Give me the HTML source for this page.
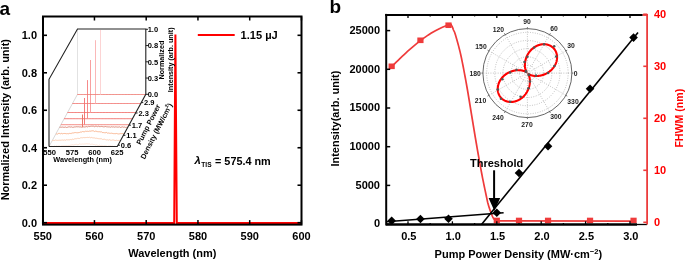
<!DOCTYPE html>
<html><head><meta charset="utf-8"><style>
html,body{margin:0;padding:0;background:#fff;width:685px;height:261px;overflow:hidden}
svg{display:block;will-change:transform}
text{font-family:"Liberation Sans",sans-serif}
</style></head><body>
<svg width="685" height="261" viewBox="0 0 685 261">
<text x="-0.50" y="15.20" font-size="19" font-weight="bold" text-anchor="start" fill="#000" >a</text>
<polyline points="43.00,222.90 174.20,222.90 175.40,34.50 176.80,222.90 301.50,222.90" stroke="#ff0000" stroke-width="2" fill="none" stroke-linejoin="miter"/>
<rect x="43.0" y="16.5" width="258.5" height="208.1" fill="none" stroke="#000" stroke-width="2"/>
<line x1="43.00" y1="222.70" x2="47.00" y2="222.70" stroke="#000" stroke-width="1.6" />
<line x1="297.50" y1="222.70" x2="301.50" y2="222.70" stroke="#000" stroke-width="1.6" />
<text x="37.00" y="226.60" font-size="11" font-weight="bold" text-anchor="end" fill="#000" >0.0</text>
<line x1="43.00" y1="185.22" x2="47.00" y2="185.22" stroke="#000" stroke-width="1.6" />
<line x1="297.50" y1="185.22" x2="301.50" y2="185.22" stroke="#000" stroke-width="1.6" />
<text x="37.00" y="189.12" font-size="11" font-weight="bold" text-anchor="end" fill="#000" >0.2</text>
<line x1="43.00" y1="147.74" x2="47.00" y2="147.74" stroke="#000" stroke-width="1.6" />
<line x1="297.50" y1="147.74" x2="301.50" y2="147.74" stroke="#000" stroke-width="1.6" />
<text x="37.00" y="151.64" font-size="11" font-weight="bold" text-anchor="end" fill="#000" >0.4</text>
<line x1="43.00" y1="110.26" x2="47.00" y2="110.26" stroke="#000" stroke-width="1.6" />
<line x1="297.50" y1="110.26" x2="301.50" y2="110.26" stroke="#000" stroke-width="1.6" />
<text x="37.00" y="114.16" font-size="11" font-weight="bold" text-anchor="end" fill="#000" >0.6</text>
<line x1="43.00" y1="72.78" x2="47.00" y2="72.78" stroke="#000" stroke-width="1.6" />
<line x1="297.50" y1="72.78" x2="301.50" y2="72.78" stroke="#000" stroke-width="1.6" />
<text x="37.00" y="76.68" font-size="11" font-weight="bold" text-anchor="end" fill="#000" >0.8</text>
<line x1="43.00" y1="35.30" x2="47.00" y2="35.30" stroke="#000" stroke-width="1.6" />
<line x1="297.50" y1="35.30" x2="301.50" y2="35.30" stroke="#000" stroke-width="1.6" />
<text x="37.00" y="39.20" font-size="11" font-weight="bold" text-anchor="end" fill="#000" >1.0</text>
<line x1="42.70" y1="224.60" x2="42.70" y2="220.10" stroke="#000" stroke-width="1.5" />
<line x1="42.70" y1="16.50" x2="42.70" y2="20.50" stroke="#000" stroke-width="1.5" />
<text x="42.70" y="239.60" font-size="11" font-weight="bold" text-anchor="middle" fill="#000" >550</text>
<line x1="94.45" y1="224.60" x2="94.45" y2="220.10" stroke="#000" stroke-width="1.5" />
<line x1="94.45" y1="16.50" x2="94.45" y2="20.50" stroke="#000" stroke-width="1.5" />
<text x="94.45" y="239.60" font-size="11" font-weight="bold" text-anchor="middle" fill="#000" >560</text>
<line x1="146.20" y1="224.60" x2="146.20" y2="220.10" stroke="#000" stroke-width="1.5" />
<line x1="146.20" y1="16.50" x2="146.20" y2="20.50" stroke="#000" stroke-width="1.5" />
<text x="146.20" y="239.60" font-size="11" font-weight="bold" text-anchor="middle" fill="#000" >570</text>
<line x1="197.95" y1="224.60" x2="197.95" y2="220.10" stroke="#000" stroke-width="1.5" />
<line x1="197.95" y1="16.50" x2="197.95" y2="20.50" stroke="#000" stroke-width="1.5" />
<text x="197.95" y="239.60" font-size="11" font-weight="bold" text-anchor="middle" fill="#000" >580</text>
<line x1="249.70" y1="224.60" x2="249.70" y2="220.10" stroke="#000" stroke-width="1.5" />
<line x1="249.70" y1="16.50" x2="249.70" y2="20.50" stroke="#000" stroke-width="1.5" />
<text x="249.70" y="239.60" font-size="11" font-weight="bold" text-anchor="middle" fill="#000" >590</text>
<line x1="301.45" y1="224.60" x2="301.45" y2="220.10" stroke="#000" stroke-width="1.5" />
<line x1="301.45" y1="16.50" x2="301.45" y2="20.50" stroke="#000" stroke-width="1.5" />
<text x="301.45" y="239.60" font-size="11" font-weight="bold" text-anchor="middle" fill="#000" >600</text>
<text x="172.30" y="256.70" font-size="11" font-weight="bold" text-anchor="middle" fill="#000" >Wavelength (nm)</text>
<text x="0.00" y="0.00" font-size="11" font-weight="bold" text-anchor="middle" fill="#000" transform="translate(9.3,119.7) rotate(-90)">Normalized Intensity (arb. unit)</text>
<line x1="197.80" y1="35.00" x2="234.70" y2="35.00" stroke="#ff0000" stroke-width="2" />
<text x="240.50" y="38.70" font-size="11.1" font-weight="bold" text-anchor="start" fill="#000" >1.15 µJ</text>
<text x="194.40" y="164.40" font-size="11.4" font-weight="bold" text-anchor="start" fill="#000" font-style="italic">λ</text>
<text x="201.30" y="167.40" font-size="7.6" font-weight="bold" text-anchor="start" fill="#000" textLength="10.3" lengthAdjust="spacingAndGlyphs">TIS</text>
<text x="215.00" y="164.50" font-size="10.85" font-weight="bold" text-anchor="start" fill="#000" >= 575.4 nm</text>
<line x1="77.50" y1="29.00" x2="77.50" y2="94.30" stroke="#e2e2e2" stroke-width="1" />
<line x1="49.00" y1="146.50" x2="77.50" y2="94.30" stroke="#d8d8d8" stroke-width="1" />
<polyline points="49.11,146.47 49.87,146.25 50.63,146.37 51.39,146.20 52.14,146.18 52.90,146.57 53.66,146.60 54.42,146.01 55.18,146.41 55.94,146.41 56.70,145.86 57.46,146.22 58.22,145.94 58.97,146.17 59.73,146.03 60.49,146.34 61.25,145.97 62.01,145.77 62.77,145.97 63.53,145.77 64.29,145.77 65.05,146.14 65.80,145.59 66.56,145.65 67.32,145.78 68.08,145.89 68.84,145.23 69.60,145.42 70.36,145.16 71.12,144.96 71.88,144.98 72.63,144.74 73.39,145.01 74.15,144.63 74.91,144.79 75.67,144.35 76.43,144.30 77.19,144.76 77.95,144.65 78.71,144.51 79.46,143.92 80.22,144.22 80.98,144.04 81.74,144.22 82.50,144.04 83.26,144.10 84.02,144.11 84.78,143.94 85.54,143.95 86.29,143.74 87.05,143.93 87.81,143.80 88.57,143.90 89.33,143.86 90.09,144.15 90.85,144.58 91.61,144.17 92.37,144.18 93.12,144.32 93.88,144.64 94.64,144.64 95.40,145.09 96.16,144.75 96.92,145.02 97.68,145.32 98.44,145.57 99.20,145.10 99.95,145.09 100.71,145.81 101.47,145.39 102.23,145.73 102.99,145.98 103.75,145.94 104.51,145.67 105.27,145.65 106.03,146.28 106.78,145.92 107.54,146.36 108.30,145.93 109.06,146.23 109.82,145.87 110.58,145.83 111.34,146.18 112.10,145.85 112.86,146.35 113.61,146.53 114.37,146.17 115.13,146.58 115.89,146.47 116.65,146.33 117.41,146.20" stroke="#fde2d4" stroke-width="1.0" fill="none" />
<polyline points="52.33,140.63 53.09,140.70 53.85,140.12 54.61,140.50 55.37,140.04 56.12,140.08 56.88,140.43 57.64,140.36 58.40,140.31 59.16,140.20 59.92,140.22 60.68,140.22 61.44,140.15 62.20,139.90 62.95,140.17 63.71,140.18 64.47,139.94 65.23,140.23 65.99,140.13 66.75,139.60 67.51,139.85 68.27,139.76 69.03,140.06 69.78,139.69 70.54,139.48 71.30,139.78 72.06,139.26 72.82,139.14 73.58,139.42 74.34,138.91 75.10,138.90 75.86,138.63 76.61,138.73 77.37,138.36 78.13,138.21 78.89,138.59 79.65,138.44 80.41,137.90 81.17,137.59 81.93,137.98 82.69,137.75 83.44,137.57 84.20,137.69 84.96,137.60 85.72,137.59 86.48,137.51 87.24,137.34 88.00,137.54 88.76,137.50 89.52,137.24 90.27,137.80 91.03,137.48 91.79,137.42 92.55,137.80 93.31,137.95 94.07,137.63 94.83,138.14 95.59,138.28 96.35,138.23 97.10,138.16 97.86,138.70 98.62,138.68 99.38,138.79 100.14,138.57 100.90,138.97 101.66,138.80 102.42,139.39 103.18,139.39 103.93,139.28 104.69,139.21 105.45,139.61 106.21,139.86 106.97,140.01 107.73,139.80 108.49,140.11 109.25,139.74 110.01,139.78 110.76,140.29 111.52,140.27 112.28,139.94 113.04,140.09 113.80,140.01 114.56,140.36 115.32,140.53 116.08,140.44 116.84,140.10 117.59,140.49 118.35,140.45 119.11,140.41 119.87,140.41 120.63,140.43" stroke="#fbcdb2" stroke-width="1.0" fill="none" />
<polyline points="55.93,133.49 56.69,134.02 57.45,134.13 58.21,133.46 58.97,133.50 59.73,133.42 60.49,133.80 61.25,133.42 62.01,133.43 62.76,133.91 63.52,133.52 64.28,133.44 65.04,133.54 65.80,133.61 66.56,133.74 67.32,133.67 68.08,133.71 68.84,133.78 69.59,133.37 70.35,133.53 71.11,133.10 71.87,133.57 72.63,132.90 73.39,132.97 74.15,132.73 74.91,132.66 75.67,132.57 76.42,132.69 77.18,132.99 77.94,132.37 78.70,132.66 79.46,132.46 80.22,132.09 80.98,132.07 81.74,132.04 82.50,131.56 83.25,131.68 84.01,131.77 84.77,131.73 85.53,131.21 86.29,131.40 87.05,131.11 87.81,131.35 88.57,131.40 89.33,131.13 90.08,130.90 90.84,131.33 91.60,130.90 92.36,130.81 93.12,130.92 93.88,130.94 94.64,131.56 95.40,131.18 96.16,131.08 96.91,131.73 97.67,131.66 98.43,131.76 99.19,131.68 99.95,131.86 100.71,131.93 101.47,131.83 102.23,132.49 102.99,132.56 103.74,132.62 104.50,132.74 105.26,132.88 106.02,132.35 106.78,132.54 107.54,133.17 108.30,132.97 109.06,133.19 109.82,133.27 110.57,133.32 111.33,133.18 112.09,133.28 112.85,133.50 113.61,133.67 114.37,133.62 115.13,133.80 115.89,133.54 116.65,133.46 117.40,133.72 118.16,133.96 118.92,133.91 119.68,133.79 120.44,133.65 121.20,133.53 121.96,133.83 122.72,133.54 123.48,133.68 124.23,133.82" stroke="#f8b590" stroke-width="1.0" fill="none" />
<polyline points="59.54,127.29 60.30,127.20 61.06,127.05 61.81,127.25 62.57,127.05 63.33,127.22 64.09,127.36 64.85,127.16 65.61,127.04 66.37,127.47 67.13,127.22 67.89,127.22 68.64,126.89 69.40,126.84 70.16,127.23 70.92,126.85 71.68,126.91 72.44,127.27 73.20,127.12 73.96,127.34 74.72,126.84 75.47,126.92 76.23,126.75 76.99,126.79 77.75,126.85 78.51,126.78 79.27,126.87 80.03,127.17 80.79,126.80 81.55,127.17 82.30,127.04 83.06,126.57 83.82,127.05 84.58,126.98 85.34,126.94 86.10,126.36 86.86,126.82 87.62,126.90 88.38,126.30 89.13,126.77 89.89,126.24 90.65,126.34 91.41,126.21 92.17,126.11 92.93,126.36 93.69,126.20 94.45,126.73 95.21,126.21 95.96,126.39 96.72,126.26 97.48,126.69 98.24,126.26 99.00,126.15 99.76,126.78 100.52,126.62 101.28,126.47 102.04,126.32 102.79,126.76 103.55,126.83 104.31,126.82 105.07,126.59 105.83,126.53 106.59,126.82 107.35,126.87 108.11,126.88 108.87,126.94 109.62,126.93 110.38,127.19 111.14,126.93 111.90,126.62 112.66,127.04 113.42,126.83 114.18,127.26 114.94,126.91 115.70,126.89 116.45,126.96 117.21,127.08 117.97,127.12 118.73,127.02 119.49,126.86 120.25,127.39 121.01,127.43 121.77,126.99 122.53,126.87 123.28,127.16 124.04,127.22 124.80,127.03 125.56,127.40 126.32,127.35 127.08,127.40 127.84,127.13" stroke="#d88878" stroke-width="1.0" fill="none" />
<line x1="82.50" y1="127.20" x2="82.50" y2="114.50" stroke="#e87868" stroke-width="1.0" />
<polyline points="60.90,124.70 61.66,124.70 62.42,124.70 63.18,124.70 63.94,124.70 64.70,124.70 65.46,124.70 66.21,124.70 66.97,124.70 67.73,124.70 68.49,124.70 69.25,124.70 70.01,124.70 70.77,124.70 71.53,124.70 72.29,124.70 73.04,124.70 73.80,124.70 74.56,124.70 75.32,124.70 76.08,124.70 76.84,124.70 77.60,124.70 78.36,124.70 79.12,124.70 79.87,124.70 80.63,124.70 81.39,124.70 82.15,124.70 82.91,124.70 83.67,124.70 84.43,124.70 85.19,124.70 85.95,124.70 86.70,124.70 87.46,124.70 88.22,124.70 88.98,124.70 89.74,124.70 90.50,124.70 91.26,124.70 92.02,124.70 92.78,124.70 93.53,124.70 94.29,124.70 95.05,124.70 95.81,124.70 96.57,124.70 97.33,124.70 98.09,124.70 98.85,124.70 99.61,124.70 100.36,124.70 101.12,124.70 101.88,124.70 102.64,124.70 103.40,124.70 104.16,124.70 104.92,124.70 105.68,124.70 106.44,124.70 107.19,124.70 107.95,124.70 108.71,124.70 109.47,124.70 110.23,124.70 110.99,124.70 111.75,124.70 112.51,124.70 113.27,124.70 114.02,124.70 114.78,124.70 115.54,124.70 116.30,124.70 117.06,124.70 117.82,124.70 118.58,124.70 119.34,124.70 120.10,124.70 120.85,124.70 121.61,124.70 122.37,124.70 123.13,124.70 123.89,124.70 124.65,124.70 125.41,124.70 126.17,124.70 126.93,124.70 127.68,124.70 128.44,124.70 129.20,124.70" stroke="#f27a72" stroke-width="1.0" fill="none" />
<line x1="84.50" y1="124.70" x2="84.50" y2="98.00" stroke="#f47c7c" stroke-width="1.0" />
<polyline points="64.18,118.70 64.94,118.70 65.70,118.70 66.45,118.70 67.21,118.70 67.97,118.70 68.73,118.70 69.49,118.70 70.25,118.70 71.01,118.70 71.77,118.70 72.53,118.70 73.28,118.70 74.04,118.70 74.80,118.70 75.56,118.70 76.32,118.70 77.08,118.70 77.84,118.70 78.60,118.70 79.36,118.70 80.11,118.70 80.87,118.70 81.63,118.70 82.39,118.70 83.15,118.70 83.91,118.70 84.67,118.70 85.43,118.70 86.19,118.70 86.94,118.70 87.70,118.70 88.46,118.70 89.22,118.70 89.98,118.70 90.74,118.70 91.50,118.70 92.26,118.70 93.02,118.70 93.77,118.70 94.53,118.70 95.29,118.70 96.05,118.70 96.81,118.70 97.57,118.70 98.33,118.70 99.09,118.70 99.85,118.70 100.60,118.70 101.36,118.70 102.12,118.70 102.88,118.70 103.64,118.70 104.40,118.70 105.16,118.70 105.92,118.70 106.68,118.70 107.43,118.70 108.19,118.70 108.95,118.70 109.71,118.70 110.47,118.70 111.23,118.70 111.99,118.70 112.75,118.70 113.51,118.70 114.26,118.70 115.02,118.70 115.78,118.70 116.54,118.70 117.30,118.70 118.06,118.70 118.82,118.70 119.58,118.70 120.34,118.70 121.09,118.70 121.85,118.70 122.61,118.70 123.37,118.70 124.13,118.70 124.89,118.70 125.65,118.70 126.41,118.70 127.17,118.70 127.92,118.70 128.68,118.70 129.44,118.70 130.20,118.70 130.96,118.70 131.72,118.70 132.48,118.70" stroke="#f06a66" stroke-width="1.0" fill="none" />
<line x1="87.50" y1="118.70" x2="87.50" y2="80.10" stroke="#f68a8a" stroke-width="1.0" />
<polyline points="67.56,112.50 68.32,112.50 69.08,112.50 69.84,112.50 70.60,112.50 71.36,112.50 72.12,112.50 72.88,112.50 73.63,112.50 74.39,112.50 75.15,112.50 75.91,112.50 76.67,112.50 77.43,112.50 78.19,112.50 78.95,112.50 79.71,112.50 80.46,112.50 81.22,112.50 81.98,112.50 82.74,112.50 83.50,112.50 84.26,112.50 85.02,112.50 85.78,112.50 86.54,112.50 87.29,112.50 88.05,112.50 88.81,112.50 89.57,112.50 90.33,112.50 91.09,112.50 91.85,112.50 92.61,112.50 93.37,112.50 94.12,112.50 94.88,112.50 95.64,112.50 96.40,112.50 97.16,112.50 97.92,112.50 98.68,112.50 99.44,112.50 100.20,112.50 100.95,112.50 101.71,112.50 102.47,112.50 103.23,112.50 103.99,112.50 104.75,112.50 105.51,112.50 106.27,112.50 107.03,112.50 107.78,112.50 108.54,112.50 109.30,112.50 110.06,112.50 110.82,112.50 111.58,112.50 112.34,112.50 113.10,112.50 113.86,112.50 114.61,112.50 115.37,112.50 116.13,112.50 116.89,112.50 117.65,112.50 118.41,112.50 119.17,112.50 119.93,112.50 120.69,112.50 121.44,112.50 122.20,112.50 122.96,112.50 123.72,112.50 124.48,112.50 125.24,112.50 126.00,112.50 126.76,112.50 127.52,112.50 128.27,112.50 129.03,112.50 129.79,112.50 130.55,112.50 131.31,112.50 132.07,112.50 132.83,112.50 133.59,112.50 134.35,112.50 135.10,112.50 135.86,112.50" stroke="#f06a66" stroke-width="1.0" fill="none" />
<line x1="90.50" y1="112.50" x2="90.50" y2="60.00" stroke="#f8a0a0" stroke-width="1.0" />
<polyline points="72.48,103.50 73.24,103.50 73.99,103.50 74.75,103.50 75.51,103.50 76.27,103.50 77.03,103.50 77.79,103.50 78.55,103.50 79.31,103.50 80.07,103.50 80.82,103.50 81.58,103.50 82.34,103.50 83.10,103.50 83.86,103.50 84.62,103.50 85.38,103.50 86.14,103.50 86.90,103.50 87.65,103.50 88.41,103.50 89.17,103.50 89.93,103.50 90.69,103.50 91.45,103.50 92.21,103.50 92.97,103.50 93.73,103.50 94.48,103.50 95.24,103.50 96.00,103.50 96.76,103.50 97.52,103.50 98.28,103.50 99.04,103.50 99.80,103.50 100.56,103.50 101.31,103.50 102.07,103.50 102.83,103.50 103.59,103.50 104.35,103.50 105.11,103.50 105.87,103.50 106.63,103.50 107.39,103.50 108.14,103.50 108.90,103.50 109.66,103.50 110.42,103.50 111.18,103.50 111.94,103.50 112.70,103.50 113.46,103.50 114.22,103.50 114.97,103.50 115.73,103.50 116.49,103.50 117.25,103.50 118.01,103.50 118.77,103.50 119.53,103.50 120.29,103.50 121.05,103.50 121.80,103.50 122.56,103.50 123.32,103.50 124.08,103.50 124.84,103.50 125.60,103.50 126.36,103.50 127.12,103.50 127.88,103.50 128.63,103.50 129.39,103.50 130.15,103.50 130.91,103.50 131.67,103.50 132.43,103.50 133.19,103.50 133.95,103.50 134.71,103.50 135.46,103.50 136.22,103.50 136.98,103.50 137.74,103.50 138.50,103.50 139.26,103.50 140.02,103.50 140.78,103.50" stroke="#f07470" stroke-width="1.0" fill="none" />
<line x1="95.50" y1="103.50" x2="95.50" y2="40.20" stroke="#fab8b8" stroke-width="1.0" />
<polyline points="77.39,94.50 78.15,94.50 78.91,94.50 79.67,94.50 80.43,94.50 81.19,94.50 81.94,94.50 82.70,94.50 83.46,94.50 84.22,94.50 84.98,94.50 85.74,94.50 86.50,94.50 87.26,94.50 88.02,94.50 88.77,94.50 89.53,94.50 90.29,94.50 91.05,94.50 91.81,94.50 92.57,94.50 93.33,94.50 94.09,94.50 94.85,94.50 95.60,94.50 96.36,94.50 97.12,94.50 97.88,94.50 98.64,94.50 99.40,94.50 100.16,94.50 100.92,94.50 101.68,94.50 102.43,94.50 103.19,94.50 103.95,94.50 104.71,94.50 105.47,94.50 106.23,94.50 106.99,94.50 107.75,94.50 108.51,94.50 109.26,94.50 110.02,94.50 110.78,94.50 111.54,94.50 112.30,94.50 113.06,94.50 113.82,94.50 114.58,94.50 115.34,94.50 116.09,94.50 116.85,94.50 117.61,94.50 118.37,94.50 119.13,94.50 119.89,94.50 120.65,94.50 121.41,94.50 122.17,94.50 122.92,94.50 123.68,94.50 124.44,94.50 125.20,94.50 125.96,94.50 126.72,94.50 127.48,94.50 128.24,94.50 129.00,94.50 129.75,94.50 130.51,94.50 131.27,94.50 132.03,94.50 132.79,94.50 133.55,94.50 134.31,94.50 135.07,94.50 135.83,94.50 136.58,94.50 137.34,94.50 138.10,94.50 138.86,94.50 139.62,94.50 140.38,94.50 141.14,94.50 141.90,94.50 142.66,94.50 143.41,94.50 144.17,94.50 144.93,94.50 145.69,94.50" stroke="#ee7a72" stroke-width="1.0" fill="none" />
<line x1="100.50" y1="94.50" x2="100.50" y2="30.00" stroke="#fcd4d4" stroke-width="1.0" />
<polyline points="49.00,146.50 49.00,79.30 77.50,29.00 145.80,29.00 145.80,94.30 117.30,146.50 49.00,146.50" stroke="#222" stroke-width="1.1" fill="none" />
<line x1="145.80" y1="94.30" x2="148.00" y2="94.30" stroke="#222" stroke-width="1" />
<text x="147.70" y="97.00" font-size="7.5" font-weight="bold" text-anchor="start" fill="#000" >0.0</text>
<line x1="145.80" y1="78.05" x2="148.00" y2="78.05" stroke="#222" stroke-width="1" />
<text x="147.70" y="80.75" font-size="7.5" font-weight="bold" text-anchor="start" fill="#000" >0.3</text>
<line x1="145.80" y1="61.80" x2="148.00" y2="61.80" stroke="#222" stroke-width="1" />
<text x="147.70" y="64.50" font-size="7.5" font-weight="bold" text-anchor="start" fill="#000" >0.5</text>
<line x1="145.80" y1="45.55" x2="148.00" y2="45.55" stroke="#222" stroke-width="1" />
<text x="147.70" y="48.25" font-size="7.5" font-weight="bold" text-anchor="start" fill="#000" >0.8</text>
<line x1="145.80" y1="29.30" x2="148.00" y2="29.30" stroke="#222" stroke-width="1" />
<text x="147.70" y="32.00" font-size="7.5" font-weight="bold" text-anchor="start" fill="#000" >1.0</text>
<line x1="141.27" y1="102.60" x2="143.27" y2="102.60" stroke="#222" stroke-width="1" />
<text x="144.07" y="105.30" font-size="7.5" font-weight="bold" text-anchor="start" fill="#000" >2.9</text>
<line x1="135.59" y1="113.00" x2="137.59" y2="113.00" stroke="#222" stroke-width="1" />
<text x="138.39" y="115.70" font-size="7.5" font-weight="bold" text-anchor="start" fill="#000" >2.3</text>
<line x1="128.93" y1="125.20" x2="130.93" y2="125.20" stroke="#222" stroke-width="1" />
<text x="131.73" y="127.90" font-size="7.5" font-weight="bold" text-anchor="start" fill="#000" >1.7</text>
<line x1="123.41" y1="135.30" x2="125.41" y2="135.30" stroke="#222" stroke-width="1" />
<text x="126.21" y="138.00" font-size="7.5" font-weight="bold" text-anchor="start" fill="#000" >1.1</text>
<line x1="118.01" y1="145.20" x2="120.01" y2="145.20" stroke="#222" stroke-width="1" />
<text x="120.81" y="147.90" font-size="7.5" font-weight="bold" text-anchor="start" fill="#000" >0.6</text>
<text x="49.60" y="154.90" font-size="7.6" font-weight="bold" text-anchor="middle" fill="#000" >550</text>
<text x="72.13" y="154.90" font-size="7.6" font-weight="bold" text-anchor="middle" fill="#000" >575</text>
<text x="94.66" y="154.90" font-size="7.6" font-weight="bold" text-anchor="middle" fill="#000" >600</text>
<text x="117.19" y="154.90" font-size="7.6" font-weight="bold" text-anchor="middle" fill="#000" >625</text>
<text x="82.60" y="162.10" font-size="7.3" font-weight="bold" text-anchor="middle" fill="#000" >Wavelength (nm)</text>
<text x="0.00" y="0.00" font-size="7.2" font-weight="bold" text-anchor="middle" fill="#000" transform="translate(164.4,60.1) rotate(-90)">Normalized</text>
<text x="0.00" y="0.00" font-size="7.2" font-weight="bold" text-anchor="middle" fill="#000" transform="translate(173.2,59.8) rotate(-90)">Intensity (arb. unit)</text>
<text x="0.00" y="0.00" font-size="7.3" font-weight="bold" text-anchor="middle" fill="#000" transform="translate(150.6,125.6) rotate(-63)">Pump Power</text>
<text x="0.00" y="0.00" font-size="7.3" font-weight="bold" text-anchor="middle" fill="#000" transform="translate(158.6,132.2) rotate(-63)">Density (MW/cm<tspan font-size="5" dy="-3">2</tspan><tspan dy="3">)</tspan></text>
<text x="329.50" y="13.20" font-size="19" font-weight="bold" text-anchor="start" fill="#000" >b</text>
<circle cx="527.4" cy="73.1" r="8.15" fill="none" stroke="#a0a0a0" stroke-width="0.7" stroke-dasharray="0.9 1.5"/>
<circle cx="527.4" cy="73.1" r="16.30" fill="none" stroke="#a0a0a0" stroke-width="0.7" stroke-dasharray="0.9 1.5"/>
<circle cx="527.4" cy="73.1" r="24.45" fill="none" stroke="#a0a0a0" stroke-width="0.7" stroke-dasharray="0.9 1.5"/>
<circle cx="527.4" cy="73.1" r="32.60" fill="none" stroke="#a0a0a0" stroke-width="0.7" stroke-dasharray="0.9 1.5"/>
<circle cx="527.4" cy="73.1" r="40.75" fill="none" stroke="#a0a0a0" stroke-width="0.7" stroke-dasharray="0.9 1.5"/>
<line x1="527.40" y1="73.10" x2="571.90" y2="73.10" stroke="#a0a0a0" stroke-width="0.7" stroke-dasharray="0.9 1.5"/>
<line x1="527.40" y1="73.10" x2="565.94" y2="50.85" stroke="#a0a0a0" stroke-width="0.7" stroke-dasharray="0.9 1.5"/>
<line x1="527.40" y1="73.10" x2="549.65" y2="34.56" stroke="#a0a0a0" stroke-width="0.7" stroke-dasharray="0.9 1.5"/>
<line x1="527.40" y1="73.10" x2="527.40" y2="28.60" stroke="#a0a0a0" stroke-width="0.7" stroke-dasharray="0.9 1.5"/>
<line x1="527.40" y1="73.10" x2="505.15" y2="34.56" stroke="#a0a0a0" stroke-width="0.7" stroke-dasharray="0.9 1.5"/>
<line x1="527.40" y1="73.10" x2="488.86" y2="50.85" stroke="#a0a0a0" stroke-width="0.7" stroke-dasharray="0.9 1.5"/>
<line x1="527.40" y1="73.10" x2="482.90" y2="73.10" stroke="#a0a0a0" stroke-width="0.7" stroke-dasharray="0.9 1.5"/>
<line x1="527.40" y1="73.10" x2="488.86" y2="95.35" stroke="#a0a0a0" stroke-width="0.7" stroke-dasharray="0.9 1.5"/>
<line x1="527.40" y1="73.10" x2="505.15" y2="111.64" stroke="#a0a0a0" stroke-width="0.7" stroke-dasharray="0.9 1.5"/>
<line x1="527.40" y1="73.10" x2="527.40" y2="117.60" stroke="#a0a0a0" stroke-width="0.7" stroke-dasharray="0.9 1.5"/>
<line x1="527.40" y1="73.10" x2="549.65" y2="111.64" stroke="#a0a0a0" stroke-width="0.7" stroke-dasharray="0.9 1.5"/>
<line x1="527.40" y1="73.10" x2="565.94" y2="95.35" stroke="#a0a0a0" stroke-width="0.7" stroke-dasharray="0.9 1.5"/>
<circle cx="527.4" cy="73.1" r="44.5" fill="none" stroke="#555" stroke-width="0.9"/>
<line x1="571.90" y1="73.10" x2="573.40" y2="73.10" stroke="#555" stroke-width="0.8" />
<line x1="565.94" y1="50.85" x2="567.24" y2="50.10" stroke="#555" stroke-width="0.8" />
<line x1="549.65" y1="34.56" x2="550.40" y2="33.26" stroke="#555" stroke-width="0.8" />
<line x1="527.40" y1="28.60" x2="527.40" y2="27.10" stroke="#555" stroke-width="0.8" />
<line x1="505.15" y1="34.56" x2="504.40" y2="33.26" stroke="#555" stroke-width="0.8" />
<line x1="488.86" y1="50.85" x2="487.56" y2="50.10" stroke="#555" stroke-width="0.8" />
<line x1="482.90" y1="73.10" x2="481.40" y2="73.10" stroke="#555" stroke-width="0.8" />
<line x1="488.86" y1="95.35" x2="487.56" y2="96.10" stroke="#555" stroke-width="0.8" />
<line x1="505.15" y1="111.64" x2="504.40" y2="112.94" stroke="#555" stroke-width="0.8" />
<line x1="527.40" y1="117.60" x2="527.40" y2="119.10" stroke="#555" stroke-width="0.8" />
<line x1="549.65" y1="111.64" x2="550.40" y2="112.94" stroke="#555" stroke-width="0.8" />
<line x1="565.94" y1="95.35" x2="567.24" y2="96.10" stroke="#555" stroke-width="0.8" />
<text x="575.70" y="75.50" font-size="6.8" font-weight="bold" text-anchor="middle" fill="#222" >0</text>
<text x="571.00" y="48.10" font-size="6.8" font-weight="bold" text-anchor="middle" fill="#222" >30</text>
<text x="554.00" y="31.10" font-size="6.8" font-weight="bold" text-anchor="middle" fill="#222" >60</text>
<text x="527.00" y="24.40" font-size="6.8" font-weight="bold" text-anchor="middle" fill="#222" >90</text>
<text x="498.30" y="31.50" font-size="6.8" font-weight="bold" text-anchor="middle" fill="#222" >120</text>
<text x="481.00" y="48.50" font-size="6.8" font-weight="bold" text-anchor="middle" fill="#222" >150</text>
<text x="475.10" y="75.50" font-size="6.8" font-weight="bold" text-anchor="middle" fill="#222" >180</text>
<text x="480.50" y="103.20" font-size="6.8" font-weight="bold" text-anchor="middle" fill="#222" >210</text>
<text x="498.00" y="119.80" font-size="6.8" font-weight="bold" text-anchor="middle" fill="#222" >240</text>
<text x="527.00" y="126.80" font-size="6.8" font-weight="bold" text-anchor="middle" fill="#222" >270</text>
<text x="555.80" y="119.40" font-size="6.8" font-weight="bold" text-anchor="middle" fill="#222" >300</text>
<text x="573.00" y="103.50" font-size="6.8" font-weight="bold" text-anchor="middle" fill="#222" >330</text>
<polygon points="547.09,73.10 547.39,72.93 547.69,72.75 547.99,72.56 548.28,72.37 548.57,72.18 548.86,71.98 549.15,71.77 549.43,71.56 549.71,71.34 549.99,71.12 550.26,70.90 550.53,70.67 550.80,70.43 551.06,70.20 551.32,69.95 551.57,69.70 551.82,69.45 552.07,69.19 552.31,68.93 552.55,68.67 552.78,68.40 553.01,68.12 553.23,67.85 553.45,67.56 553.66,67.28 553.86,66.99 554.07,66.70 554.26,66.40 554.45,66.10 554.63,65.80 554.81,65.50 554.98,65.19 555.15,64.88 555.31,64.57 555.46,64.25 555.61,63.93 555.75,63.62 555.88,63.29 556.01,62.97 556.13,62.64 556.24,62.32 556.35,61.99 556.44,61.66 556.54,61.33 556.62,61.00 556.70,60.66 556.77,60.33 556.83,60.00 556.89,59.66 556.94,59.33 556.98,58.99 557.01,58.66 557.04,58.32 557.06,57.99 557.07,57.66 557.07,57.32 557.07,56.99 557.06,56.66 557.04,56.33 557.01,56.00 556.98,55.68 556.94,55.35 556.89,55.03 556.83,54.71 556.77,54.39 556.70,54.07 556.62,53.76 556.53,53.45 556.44,53.14 556.34,52.84 556.23,52.53 556.12,52.24 556.00,51.94 555.87,51.65 555.73,51.36 555.59,51.08 555.44,50.80 555.28,50.52 555.12,50.25 554.95,49.98 554.77,49.72 554.59,49.46 554.40,49.21 554.21,48.96 554.01,48.72 553.80,48.48 553.59,48.25 553.37,48.02 553.14,47.80 552.91,47.59 552.68,47.38 552.44,47.18 552.19,46.98 551.94,46.79 551.68,46.60 551.42,46.42 551.15,46.25 550.88,46.09 550.61,45.93 550.33,45.77 550.05,45.63 549.76,45.49 549.47,45.36 549.17,45.23 548.87,45.12 548.57,45.00 548.27,44.90 547.96,44.80 547.65,44.71 547.33,44.63 547.02,44.56 546.70,44.49 546.38,44.43 546.05,44.38 545.73,44.33 545.40,44.29 545.07,44.26 544.74,44.24 544.41,44.23 544.07,44.22 543.74,44.22 543.41,44.22 543.07,44.24 542.73,44.26 542.40,44.29 542.06,44.33 541.72,44.37 541.39,44.42 541.05,44.48 540.72,44.55 540.38,44.62 540.05,44.70 539.71,44.78 539.38,44.88 539.05,44.98 538.72,45.09 538.39,45.20 538.06,45.32 537.74,45.45 537.41,45.59 537.09,45.73 536.77,45.88 536.46,46.03 536.14,46.19 535.83,46.36 535.52,46.53 535.22,46.71 534.92,46.89 534.62,47.08 534.32,47.28 534.03,47.48 533.74,47.68 533.45,47.90 533.17,48.11 532.89,48.33 532.62,48.56 532.35,48.79 532.08,49.03 531.82,49.27 531.56,49.51 531.31,49.76 531.06,50.01 530.81,50.27 530.57,50.53 530.34,50.80 530.11,51.06 529.88,51.34 529.66,51.61 529.44,51.89 529.23,52.17 529.03,52.45 528.82,52.74 528.63,53.02 528.44,53.31 528.25,53.61 528.07,53.90 527.90,54.20 527.72,54.49 527.56,54.79 527.40,55.09 527.25,55.39 527.10,55.70 526.95,56.00 526.81,56.30 526.68,56.61 526.55,56.91 526.43,57.22 526.31,57.52 526.20,57.82 526.09,58.13 525.99,58.43 525.89,58.74 525.80,59.04 525.71,59.34 525.63,59.64 525.55,59.94 525.48,60.24 525.41,60.53 525.35,60.83 525.29,61.12 525.23,61.41 525.18,61.70 525.14,61.99 525.10,62.27 525.06,62.55 525.03,62.83 525.00,63.11 524.98,63.38 524.96,63.65 524.94,63.92 524.93,64.18 524.92,64.44 524.91,64.70 524.91,64.96 524.91,65.21 524.92,65.45 524.92,65.70 524.93,65.93 524.95,66.17 524.96,66.40 524.98,66.63 525.00,66.85 525.02,67.07 525.05,67.28 525.08,67.49 525.11,67.70 525.14,67.90 525.17,68.09 525.20,68.28 525.24,68.47 525.28,68.65 525.32,68.83 525.36,69.00 525.40,69.17 525.44,69.33 525.48,69.48 525.52,69.64 525.56,69.78 525.60,69.93 525.65,70.06 525.69,70.19 525.73,70.32 525.77,70.44 525.81,70.56 525.85,70.67 525.89,70.78 525.93,70.88 525.97,70.98 526.00,71.07 526.04,71.16 526.07,71.24 526.10,71.32 526.13,71.39 526.16,71.46 526.19,71.52 526.21,71.58 526.23,71.63 526.25,71.68 526.27,71.73 526.28,71.77 526.30,71.81 526.30,71.84 526.31,71.87 526.31,71.89 526.31,71.91 526.31,71.93 526.30,71.94 526.29,71.95 526.27,71.95 526.25,71.95 526.23,71.95 526.21,71.95 526.18,71.94 526.14,71.93 526.10,71.91 526.06,71.89 526.01,71.87 525.96,71.85 525.91,71.82 525.85,71.80 525.78,71.77 525.71,71.73 525.64,71.70 525.56,71.66 525.48,71.62 525.39,71.58 525.29,71.54 525.20,71.50 525.09,71.45 524.99,71.41 524.87,71.36 524.75,71.32 524.63,71.27 524.50,71.22 524.37,71.17 524.23,71.12 524.09,71.07 523.94,71.02 523.79,70.97 523.63,70.92 523.47,70.88 523.30,70.83 523.13,70.78 522.95,70.74 522.77,70.69 522.58,70.65 522.39,70.60 522.19,70.56 521.99,70.52 521.79,70.48 521.58,70.45 521.36,70.41 521.14,70.38 520.92,70.35 520.69,70.32 520.46,70.30 520.22,70.27 519.98,70.25 519.74,70.23 519.49,70.22 519.23,70.21 518.98,70.20 518.72,70.20 518.46,70.19 518.19,70.20 517.92,70.20 517.65,70.21 517.37,70.22 517.09,70.24 516.81,70.26 516.52,70.29 516.24,70.32 515.95,70.35 515.65,70.39 515.36,70.43 515.06,70.48 514.77,70.53 514.47,70.59 514.16,70.65 513.86,70.71 513.56,70.78 513.25,70.86 512.94,70.94 512.63,71.02 512.33,71.12 512.02,71.21 511.71,71.31 511.40,71.42 511.09,71.53 510.78,71.65 510.47,71.77 510.16,71.89 509.85,72.03 509.54,72.16 509.23,72.31 508.92,72.45 508.62,72.61 508.31,72.77 508.01,72.93 507.71,73.10 507.41,73.27 507.11,73.45 506.81,73.64 506.52,73.83 506.23,74.02 505.94,74.22 505.65,74.43 505.37,74.64 505.09,74.86 504.81,75.08 504.54,75.30 504.27,75.53 504.00,75.77 503.74,76.00 503.48,76.25 503.23,76.50 502.98,76.75 502.73,77.01 502.49,77.27 502.25,77.53 502.02,77.80 501.79,78.08 501.57,78.35 501.35,78.64 501.14,78.92 500.94,79.21 500.73,79.50 500.54,79.80 500.35,80.10 500.17,80.40 499.99,80.70 499.82,81.01 499.65,81.32 499.49,81.63 499.34,81.95 499.19,82.27 499.05,82.58 498.92,82.91 498.79,83.23 498.67,83.56 498.56,83.88 498.45,84.21 498.36,84.54 498.26,84.87 498.18,85.20 498.10,85.54 498.03,85.87 497.97,86.20 497.91,86.54 497.86,86.87 497.82,87.21 497.79,87.54 497.76,87.88 497.74,88.21 497.73,88.54 497.73,88.88 497.73,89.21 497.74,89.54 497.76,89.87 497.79,90.20 497.82,90.52 497.86,90.85 497.91,91.17 497.97,91.49 498.03,91.81 498.10,92.13 498.18,92.44 498.27,92.75 498.36,93.06 498.46,93.36 498.57,93.67 498.68,93.96 498.80,94.26 498.93,94.55 499.07,94.84 499.21,95.12 499.36,95.40 499.52,95.68 499.68,95.95 499.85,96.22 500.03,96.48 500.21,96.74 500.40,96.99 500.59,97.24 500.79,97.48 501.00,97.72 501.21,97.95 501.43,98.18 501.66,98.40 501.89,98.61 502.12,98.82 502.36,99.02 502.61,99.22 502.86,99.41 503.12,99.60 503.38,99.78 503.65,99.95 503.92,100.11 504.19,100.27 504.47,100.43 504.75,100.57 505.04,100.71 505.33,100.84 505.63,100.97 505.93,101.08 506.23,101.20 506.53,101.30 506.84,101.40 507.15,101.49 507.47,101.57 507.78,101.64 508.10,101.71 508.42,101.77 508.75,101.82 509.07,101.87 509.40,101.91 509.73,101.94 510.06,101.96 510.39,101.97 510.73,101.98 511.06,101.98 511.39,101.98 511.73,101.96 512.07,101.94 512.40,101.91 512.74,101.87 513.08,101.83 513.41,101.78 513.75,101.72 514.08,101.65 514.42,101.58 514.75,101.50 515.09,101.42 515.42,101.32 515.75,101.22 516.08,101.11 516.41,101.00 516.74,100.88 517.06,100.75 517.39,100.61 517.71,100.47 518.03,100.32 518.34,100.17 518.66,100.01 518.97,99.84 519.28,99.67 519.58,99.49 519.88,99.31 520.18,99.12 520.48,98.92 520.77,98.72 521.06,98.52 521.35,98.30 521.63,98.09 521.91,97.87 522.18,97.64 522.45,97.41 522.72,97.17 522.98,96.93 523.24,96.69 523.49,96.44 523.74,96.19 523.99,95.93 524.23,95.67 524.46,95.40 524.69,95.14 524.92,94.86 525.14,94.59 525.36,94.31 525.57,94.03 525.77,93.75 525.98,93.46 526.17,93.18 526.36,92.89 526.55,92.59 526.73,92.30 526.90,92.00 527.08,91.71 527.24,91.41 527.40,91.11 527.55,90.81 527.70,90.50 527.85,90.20 527.99,89.90 528.12,89.59 528.25,89.29 528.37,88.98 528.49,88.68 528.60,88.38 528.71,88.07 528.81,87.77 528.91,87.46 529.00,87.16 529.09,86.86 529.17,86.56 529.25,86.26 529.32,85.96 529.39,85.67 529.45,85.37 529.51,85.08 529.57,84.79 529.62,84.50 529.66,84.21 529.70,83.93 529.74,83.65 529.77,83.37 529.80,83.09 529.82,82.82 529.84,82.55 529.86,82.28 529.87,82.02 529.88,81.76 529.89,81.50 529.89,81.24 529.89,80.99 529.88,80.75 529.88,80.50 529.87,80.27 529.85,80.03 529.84,79.80 529.82,79.57 529.80,79.35 529.78,79.13 529.75,78.92 529.72,78.71 529.69,78.50 529.66,78.30 529.63,78.11 529.60,77.92 529.56,77.73 529.52,77.55 529.48,77.37 529.44,77.20 529.40,77.03 529.36,76.87 529.32,76.72 529.28,76.56 529.24,76.42 529.20,76.27 529.15,76.14 529.11,76.01 529.07,75.88 529.03,75.76 528.99,75.64 528.95,75.53 528.91,75.42 528.87,75.32 528.83,75.22 528.80,75.13 528.76,75.04 528.73,74.96 528.70,74.88 528.67,74.81 528.64,74.74 528.61,74.68 528.59,74.62 528.57,74.57 528.55,74.52 528.53,74.47 528.52,74.43 528.50,74.39 528.50,74.36 528.49,74.33 528.49,74.31 528.49,74.29 528.49,74.27 528.50,74.26 528.51,74.25 528.53,74.25 528.55,74.25 528.57,74.25 528.59,74.25 528.62,74.26 528.66,74.27 528.70,74.29 528.74,74.31 528.79,74.33 528.84,74.35 528.89,74.38 528.95,74.40 529.02,74.43 529.09,74.47 529.16,74.50 529.24,74.54 529.32,74.58 529.41,74.62 529.51,74.66 529.60,74.70 529.71,74.75 529.81,74.79 529.93,74.84 530.05,74.88 530.17,74.93 530.30,74.98 530.43,75.03 530.57,75.08 530.71,75.13 530.86,75.18 531.01,75.23 531.17,75.28 531.33,75.32 531.50,75.37 531.67,75.42 531.85,75.46 532.03,75.51 532.22,75.55 532.41,75.60 532.61,75.64 532.81,75.68 533.01,75.72 533.22,75.75 533.44,75.79 533.66,75.82 533.88,75.85 534.11,75.88 534.34,75.90 534.58,75.93 534.82,75.95 535.06,75.97 535.31,75.98 535.57,75.99 535.82,76.00 536.08,76.00 536.34,76.01 536.61,76.00 536.88,76.00 537.15,75.99 537.43,75.98 537.71,75.96 537.99,75.94 538.28,75.91 538.56,75.88 538.85,75.85 539.15,75.81 539.44,75.77 539.74,75.72 540.03,75.67 540.33,75.61 540.64,75.55 540.94,75.49 541.24,75.42 541.55,75.34 541.86,75.26 542.17,75.18 542.47,75.08 542.78,74.99 543.09,74.89 543.40,74.78 543.71,74.67 544.02,74.55 544.33,74.43 544.64,74.31 544.95,74.17 545.26,74.04 545.57,73.89 545.88,73.75 546.18,73.59 546.49,73.43 546.79,73.27 547.09,73.10" fill="none" stroke="#ff0000" stroke-width="2.1"/>
<circle cx="548.00" cy="73.10" r="1.25" fill="#555"/>
<circle cx="554.35" cy="65.88" r="1.25" fill="#555"/>
<circle cx="556.24" cy="56.45" r="1.25" fill="#555"/>
<circle cx="554.20" cy="46.30" r="1.25" fill="#555"/>
<circle cx="544.05" cy="44.26" r="1.25" fill="#555"/>
<circle cx="534.23" cy="47.60" r="1.25" fill="#555"/>
<circle cx="527.40" cy="56.70" r="1.25" fill="#555"/>
<circle cx="524.42" cy="61.99" r="1.25" fill="#555"/>
<circle cx="536.00" cy="75.40" r="1.25" fill="#555"/>
<circle cx="516.50" cy="69.77" r="1.25" fill="#555"/>
<circle cx="510.11" cy="72.50" r="1.25" fill="#555"/>
<circle cx="502.37" cy="79.34" r="1.25" fill="#555"/>
<circle cx="497.66" cy="89.58" r="1.25" fill="#555"/>
<circle cx="500.93" cy="98.66" r="1.25" fill="#555"/>
<circle cx="510.20" cy="101.73" r="1.25" fill="#555"/>
<circle cx="520.59" cy="96.84" r="1.25" fill="#555"/>
<circle cx="528.45" cy="88.16" r="1.25" fill="#555"/>
<circle cx="529.97" cy="81.52" r="1.25" fill="#555"/>
<circle cx="526.04" cy="71.16" r="1.25" fill="#555"/>
<circle cx="525.85" cy="71.80" r="1.25" fill="#555"/>
<circle cx="528.76" cy="75.04" r="1.25" fill="#555"/>
<circle cx="528.95" cy="74.40" r="1.25" fill="#555"/>
<polyline points="392.00,66.30 393.08,65.25 394.51,63.84 396.22,62.16 398.11,60.30 400.12,58.35 402.16,56.39 404.14,54.51 406.00,52.80 407.76,51.21 409.53,49.64 411.31,48.08 413.08,46.56 414.86,45.06 416.64,43.60 418.42,42.17 420.20,40.80 421.98,39.46 423.77,38.16 425.56,36.89 427.34,35.66 429.13,34.47 430.92,33.33 432.71,32.24 434.50,31.20 436.37,30.19 438.34,29.18 440.37,28.21 442.37,27.29 444.28,26.46 446.03,25.73 447.56,25.14 448.80,24.70 449.71,24.43 450.33,24.32 450.73,24.34 450.98,24.47 451.12,24.68 451.23,24.96 451.37,25.27 451.60,25.60 451.88,25.98 452.14,26.44 452.37,26.97 452.60,27.54 452.82,28.15 453.04,28.78 453.26,29.40 453.50,30.00 453.72,30.49 453.92,30.86 454.10,31.17 454.29,31.52 454.50,32.00 454.77,32.68 455.09,33.65 455.50,35.00 456.00,36.71 456.58,38.71 457.22,40.96 457.91,43.44 458.63,46.11 459.36,48.95 460.09,51.92 460.80,55.00 461.51,58.27 462.23,61.80 462.97,65.52 463.72,69.38 464.46,73.31 465.19,77.27 465.91,81.18 466.60,85.00 467.26,88.75 467.91,92.50 468.53,96.25 469.15,100.00 469.76,103.75 470.37,107.50 470.98,111.25 471.60,115.00 472.22,118.75 472.84,122.50 473.46,126.25 474.08,130.00 474.70,133.75 475.32,137.50 475.96,141.25 476.60,145.00 477.26,148.82 477.95,152.73 478.65,156.69 479.36,160.62 480.05,164.48 480.73,168.20 481.38,171.73 482.00,175.00 482.59,178.05 483.16,180.94 483.71,183.67 484.24,186.25 484.75,188.67 485.23,190.94 485.68,193.05 486.10,195.00 486.47,196.73 486.77,198.20 487.04,199.48 487.29,200.62 487.53,201.69 487.78,202.73 488.07,203.82 488.40,205.00 488.79,206.29 489.22,207.64 489.68,209.00 490.15,210.36 490.62,211.67 491.08,212.91 491.51,214.03 491.90,215.00 492.24,215.82 492.55,216.52 492.83,217.12 493.09,217.64 493.35,218.08 493.62,218.48 493.90,218.85 494.20,219.20 494.52,219.52 494.84,219.77 495.16,219.98 495.49,220.14 495.84,220.28 496.20,220.39 496.59,220.50 497.00,220.60 497.44,220.69 497.92,220.76 498.41,220.80 498.93,220.83 499.45,220.85 499.97,220.87 500.49,220.88 501.00,220.90 501.53,220.92 502.09,220.93 502.68,220.94 503.25,220.94 503.79,220.95 504.28,220.95 504.69,220.95 505.00,220.95 633.00,221.10" stroke="#ef3b3b" stroke-width="1.7" fill="none" />
<rect x="388.56" y="63.50" width="6.2" height="5.6" fill="#ef3b3b"/>
<rect x="417.33" y="37.50" width="6.2" height="5.6" fill="#ef3b3b"/>
<rect x="445.39" y="22.42" width="6.2" height="5.6" fill="#ef3b3b"/>
<rect x="493.70" y="217.68" width="6.2" height="5.6" fill="#ef3b3b"/>
<rect x="515.90" y="217.68" width="6.2" height="5.6" fill="#ef3b3b"/>
<rect x="544.94" y="217.68" width="6.2" height="5.6" fill="#ef3b3b"/>
<rect x="586.94" y="217.68" width="6.2" height="5.6" fill="#ef3b3b"/>
<rect x="630.45" y="217.68" width="6.2" height="5.6" fill="#ef3b3b"/>
<line x1="386.20" y1="221.80" x2="503.60" y2="212.70" stroke="#000" stroke-width="1.6" />
<line x1="481.50" y1="224.50" x2="638.00" y2="32.60" stroke="#000" stroke-width="1.6" />
<line x1="386.20" y1="224.50" x2="637.00" y2="224.50" stroke="#000" stroke-width="2.7" />
<polygon points="391.66,216.55 395.96,220.85 391.66,225.15 387.36,220.85" fill="#000"/>
<polygon points="420.43,214.69 424.73,218.99 420.43,223.29 416.13,218.99" fill="#000"/>
<polygon points="448.49,214.46 452.79,218.76 448.49,223.06 444.19,218.76" fill="#000"/>
<polygon points="496.80,208.50 501.10,212.80 496.80,217.10 492.50,212.80" fill="#000"/>
<polygon points="519.00,168.70 523.30,173.00 519.00,177.30 514.70,173.00" fill="#000"/>
<polygon points="548.04,141.90 552.34,146.20 548.04,150.50 543.74,146.20" fill="#000"/>
<polygon points="590.04,84.40 594.34,88.70 590.04,93.00 585.74,88.70" fill="#000"/>
<polygon points="633.55,33.30 637.85,37.60 633.55,41.90 629.25,37.60" fill="#000"/>
<line x1="494.10" y1="170.30" x2="494.10" y2="199.00" stroke="#000" stroke-width="2" />
<polygon points="488.6,198 500.2,198 494.4,211" fill="#000"/>
<text x="496.60" y="167.30" font-size="11" font-weight="bold" text-anchor="middle" fill="#000" >Threshold</text>
<line x1="385.20" y1="14.90" x2="642.70" y2="14.90" stroke="#000" stroke-width="2" />
<line x1="642.70" y1="14.90" x2="648.00" y2="14.90" stroke="#ec3c3c" stroke-width="2" />
<line x1="386.20" y1="13.90" x2="386.20" y2="225.50" stroke="#000" stroke-width="2" />
<line x1="637.00" y1="224.50" x2="647.10" y2="224.50" stroke="#000" stroke-width="1.3" />
<line x1="647.10" y1="14.90" x2="647.10" y2="224.50" stroke="#ec3c3c" stroke-width="1.8" />
<line x1="408.00" y1="14.90" x2="408.00" y2="18.10" stroke="#000" stroke-width="1.3" />
<line x1="408.00" y1="224.50" x2="408.00" y2="221.30" stroke="#000" stroke-width="1.3" />
<text x="408.80" y="240.30" font-size="11" font-weight="bold" text-anchor="middle" fill="#000" >0.5</text>
<line x1="430.20" y1="14.90" x2="430.20" y2="16.40" stroke="#000" stroke-width="1.3" />
<line x1="430.20" y1="224.50" x2="430.20" y2="223.00" stroke="#000" stroke-width="1.3" />
<line x1="452.40" y1="14.90" x2="452.40" y2="18.10" stroke="#000" stroke-width="1.3" />
<line x1="452.40" y1="224.50" x2="452.40" y2="221.30" stroke="#000" stroke-width="1.3" />
<text x="453.20" y="240.30" font-size="11" font-weight="bold" text-anchor="middle" fill="#000" >1.0</text>
<line x1="474.60" y1="14.90" x2="474.60" y2="16.40" stroke="#000" stroke-width="1.3" />
<line x1="474.60" y1="224.50" x2="474.60" y2="223.00" stroke="#000" stroke-width="1.3" />
<line x1="496.80" y1="14.90" x2="496.80" y2="18.10" stroke="#000" stroke-width="1.3" />
<line x1="496.80" y1="224.50" x2="496.80" y2="221.30" stroke="#000" stroke-width="1.3" />
<text x="497.60" y="240.30" font-size="11" font-weight="bold" text-anchor="middle" fill="#000" >1.5</text>
<line x1="519.00" y1="14.90" x2="519.00" y2="16.40" stroke="#000" stroke-width="1.3" />
<line x1="519.00" y1="224.50" x2="519.00" y2="223.00" stroke="#000" stroke-width="1.3" />
<line x1="541.20" y1="14.90" x2="541.20" y2="18.10" stroke="#000" stroke-width="1.3" />
<line x1="541.20" y1="224.50" x2="541.20" y2="221.30" stroke="#000" stroke-width="1.3" />
<text x="542.00" y="240.30" font-size="11" font-weight="bold" text-anchor="middle" fill="#000" >2.0</text>
<line x1="563.40" y1="14.90" x2="563.40" y2="16.40" stroke="#000" stroke-width="1.3" />
<line x1="563.40" y1="224.50" x2="563.40" y2="223.00" stroke="#000" stroke-width="1.3" />
<line x1="585.60" y1="14.90" x2="585.60" y2="18.10" stroke="#000" stroke-width="1.3" />
<line x1="585.60" y1="224.50" x2="585.60" y2="221.30" stroke="#000" stroke-width="1.3" />
<text x="586.40" y="240.30" font-size="11" font-weight="bold" text-anchor="middle" fill="#000" >2.5</text>
<line x1="607.80" y1="14.90" x2="607.80" y2="16.40" stroke="#000" stroke-width="1.3" />
<line x1="607.80" y1="224.50" x2="607.80" y2="223.00" stroke="#000" stroke-width="1.3" />
<line x1="630.00" y1="14.90" x2="630.00" y2="18.10" stroke="#000" stroke-width="1.3" />
<line x1="630.00" y1="224.50" x2="630.00" y2="221.30" stroke="#000" stroke-width="1.3" />
<text x="630.80" y="240.30" font-size="11" font-weight="bold" text-anchor="middle" fill="#000" >3.0</text>
<line x1="386.20" y1="224.10" x2="390.20" y2="224.10" stroke="#000" stroke-width="1.5" />
<text x="380.00" y="227.40" font-size="11" font-weight="bold" text-anchor="end" fill="#000" >0</text>
<line x1="386.20" y1="185.40" x2="390.20" y2="185.40" stroke="#000" stroke-width="1.5" />
<text x="380.00" y="188.70" font-size="11" font-weight="bold" text-anchor="end" fill="#000" >5000</text>
<line x1="386.20" y1="146.70" x2="390.20" y2="146.70" stroke="#000" stroke-width="1.5" />
<text x="380.00" y="150.00" font-size="11" font-weight="bold" text-anchor="end" fill="#000" >10000</text>
<line x1="386.20" y1="108.00" x2="390.20" y2="108.00" stroke="#000" stroke-width="1.5" />
<text x="380.00" y="111.30" font-size="11" font-weight="bold" text-anchor="end" fill="#000" >15000</text>
<line x1="386.20" y1="69.30" x2="390.20" y2="69.30" stroke="#000" stroke-width="1.5" />
<text x="380.00" y="72.60" font-size="11" font-weight="bold" text-anchor="end" fill="#000" >20000</text>
<line x1="386.20" y1="30.60" x2="390.20" y2="30.60" stroke="#000" stroke-width="1.5" />
<text x="380.00" y="33.90" font-size="11" font-weight="bold" text-anchor="end" fill="#000" >25000</text>
<line x1="643.30" y1="222.30" x2="647.10" y2="222.30" stroke="#ec3c3c" stroke-width="1.6" />
<text x="654.00" y="226.20" font-size="11" font-weight="bold" text-anchor="start" fill="#ff0000" >0</text>
<line x1="643.30" y1="170.30" x2="647.10" y2="170.30" stroke="#ec3c3c" stroke-width="1.6" />
<text x="654.00" y="174.20" font-size="11" font-weight="bold" text-anchor="start" fill="#ff0000" >10</text>
<line x1="643.30" y1="118.30" x2="647.10" y2="118.30" stroke="#ec3c3c" stroke-width="1.6" />
<text x="654.00" y="122.20" font-size="11" font-weight="bold" text-anchor="start" fill="#ff0000" >20</text>
<line x1="643.30" y1="66.30" x2="647.10" y2="66.30" stroke="#ec3c3c" stroke-width="1.6" />
<text x="654.00" y="70.20" font-size="11" font-weight="bold" text-anchor="start" fill="#ff0000" >30</text>
<line x1="643.30" y1="14.30" x2="647.10" y2="14.30" stroke="#ec3c3c" stroke-width="1.6" />
<text x="654.00" y="18.20" font-size="11" font-weight="bold" text-anchor="start" fill="#ff0000" >40</text>
<text x="0.00" y="0.00" font-size="11" font-weight="bold" text-anchor="middle" fill="#000" transform="translate(339.2,118.6) rotate(-90)">Intensity(arb. unit)</text>
<text x="0.00" y="0.00" font-size="10.6" font-weight="bold" text-anchor="middle" fill="#ff0000" transform="translate(682.6,118.2) rotate(-90)">FHWM (nm)</text>
<text x="434.60" y="258.10" font-size="11" font-weight="bold" text-anchor="start" fill="#000" >Pump Power Density (MW·cm<tspan font-size="7.5" dy="-4">−2</tspan><tspan dy="4">)</tspan></text>
</svg>
</body></html>
